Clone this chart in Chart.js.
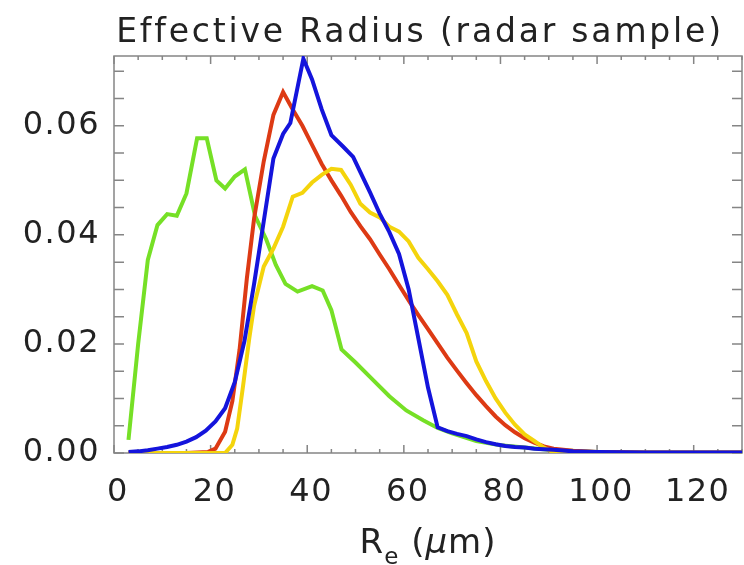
<!DOCTYPE html>
<html>
<head>
<meta charset="utf-8">
<script src="https://cdn.jsdelivr.net/npm/chart.js@4.4.1/dist/chart.umd.min.js"></script>
<style>
  html, body { margin: 0; padding: 0; background: #fff; }
  #wrap { width: 744px; height: 565px; }
</style>
</head>
<body>
<div id="wrap"><canvas id="c" width="744" height="565"></canvas></div>
<script>
// ---- data ----
const greenX = [3, 5, 7, 9, 11, 13, 15, 17.2, 19.2, 21.2, 23, 25, 27.1, 29.2, 31.5, 33.5, 35.5, 38, 41, 43.2, 45, 47.1, 50, 53.5, 57, 60.5, 64, 67, 70, 75, 80, 90, 100, 110, 120, 130];
const greenY = [0.0024, 0.0200, 0.0354, 0.0418, 0.0438, 0.0435, 0.0476, 0.0577, 0.0577, 0.0500, 0.0485, 0.0507, 0.0520, 0.0435, 0.0392, 0.0345, 0.0310, 0.0296, 0.0306, 0.0298, 0.0262, 0.0190, 0.0166, 0.0135, 0.0104, 0.0078, 0.0060, 0.0046, 0.0036, 0.0022, 0.0014, 0.0006, 0.0002, 0.0001, 0.0001, 0.0001];

const redX = [3, 10, 15, 19.5, 21, 23, 24.5, 26, 27.5, 29, 31, 33, 35, 37, 39, 41, 43, 45, 47, 49, 51, 53, 55, 57, 59, 61, 63, 65, 67, 69, 71, 73, 75, 77, 79, 81, 83, 85, 87, 89, 91, 95, 100, 110, 130];
const redY = [0, 0, 0, 0.0002, 0.0008, 0.0039, 0.0095, 0.0190, 0.0320, 0.0430, 0.0535, 0.0620, 0.0662, 0.0630, 0.0600, 0.0565, 0.0530, 0.0500, 0.0472, 0.0442, 0.0416, 0.0392, 0.0364, 0.0337, 0.0308, 0.0280, 0.0253, 0.0227, 0.0201, 0.0175, 0.0151, 0.0128, 0.0106, 0.0086, 0.0067, 0.0051, 0.0038, 0.0027, 0.0019, 0.0012, 0.0008, 0.0004, 0.0002, 0.0001, 0.0001];

const yellowX = [3, 10, 20, 23, 24.5, 25.5, 26.7, 28, 29, 31, 33, 35, 37, 39, 41, 43, 45, 47, 49, 51, 53, 55, 57, 59, 61, 63, 65, 67, 69, 71, 73, 75, 77, 79, 81, 83, 85, 87, 89, 91, 95, 100, 110, 130];
const yellowY = [0, 0, 0, 0, 0.0015, 0.0045, 0.0122, 0.0210, 0.0270, 0.0342, 0.0375, 0.0415, 0.0470, 0.0477, 0.0496, 0.0510, 0.0521, 0.0519, 0.0492, 0.0457, 0.0441, 0.0432, 0.0415, 0.0406, 0.0388, 0.0358, 0.0337, 0.0315, 0.0290, 0.0254, 0.0220, 0.0168, 0.0132, 0.0100, 0.0074, 0.0052, 0.0034, 0.0022, 0.0010, 0.0001, 0, 0, 0, 0];

const blueX = [3, 5, 7, 9, 11, 13, 15, 17, 19, 21, 23, 25, 27, 29, 31, 33, 35, 36.5, 39.2, 41, 43, 45, 47.4, 49.5, 51, 53, 55, 57, 59, 61, 63, 65, 67, 69, 71, 73, 75, 77, 79, 81, 83, 85, 87, 89, 91, 95, 100, 110, 120, 130];
const blueY = [0.0002, 0.0003, 0.0005, 0.0008, 0.0011, 0.0015, 0.0021, 0.0029, 0.0041, 0.0058, 0.0082, 0.0130, 0.0205, 0.0310, 0.0425, 0.0540, 0.0585, 0.0605, 0.0723, 0.0685, 0.0630, 0.0583, 0.0562, 0.0543, 0.0515, 0.0478, 0.0439, 0.0405, 0.0365, 0.0300, 0.0210, 0.0120, 0.0047, 0.0040, 0.0035, 0.0031, 0.0025, 0.0020, 0.0016, 0.0013, 0.0011, 0.0010, 0.0008, 0.0007, 0.0006, 0.0003, 0.0002, 0.0001, 0.0001, 0.0001];

// ---- axes ----
const xLabels = [0, 20, 40, 60, 80, 100, 120];
const xMinor = [0, 5, 10, 15, 20, 25, 30, 35, 40, 45, 50, 55, 60, 65, 70, 75, 80, 85, 90, 95, 100, 105, 110, 115, 120, 125, 130];
const yLabels = [0, 0.02, 0.04, 0.06];
const yMinor = [0, 0.005, 0.01, 0.015, 0.02, 0.025, 0.03, 0.035, 0.04, 0.045, 0.05, 0.055, 0.06, 0.065, 0.07];

const titleText = 'Effective Radius (radar sample)';

const toPoints = (xs, ys) => xs.map((x, i) => ({ x: x, y: ys[i] }));
const FONT = 'DejaVu Sans';
const TEXT_COLOR = '#222';
const AXIS_COLOR = '#858585';

// slightly wider lettering, like the original's stroke font
const spacing = {
    id: 'spacing',
    beforeDraw(chart) { chart.ctx.letterSpacing = '1.5px'; }
};

// frame and inward ticks, IDL style
const frameTicks = {
    id: 'frameTicks',
    beforeDatasetsDraw(chart) {
        const { ctx, chartArea: a, scales } = chart;
        const x = scales.x, y = scales.y;
        ctx.save();
        ctx.strokeStyle = AXIS_COLOR;
        ctx.lineWidth = 1.5;
        ctx.strokeRect(a.left, a.top, a.right - a.left, a.bottom - a.top);
        ctx.beginPath();
        xMinor.forEach(v => {
            const px = x.getPixelForValue(v);
            const len = xLabels.includes(v) ? 8 : 4;
            ctx.moveTo(px, a.bottom); ctx.lineTo(px, a.bottom - len);
            ctx.moveTo(px, a.top); ctx.lineTo(px, a.top + len);
        });
        yMinor.forEach(v => {
            const py = y.getPixelForValue(v);
            ctx.moveTo(a.left, py); ctx.lineTo(a.left + 10, py);
            ctx.moveTo(a.right, py); ctx.lineTo(a.right - 10, py);
        });
        ctx.stroke();
        ctx.restore();
    }
};

// title and x-axis title (R with subscript e)
const labels = {
    id: 'labels',
    afterDraw(chart) {
        const { ctx, chartArea: a } = chart;
        const cx = (a.left + a.right) / 2;
        ctx.save();
        ctx.fillStyle = TEXT_COLOR;
        ctx.textBaseline = 'alphabetic';

        ctx.letterSpacing = '2.8px';
        ctx.font = `33px "${FONT}"`;
        ctx.textAlign = 'center';
        ctx.fillText(titleText, cx - 8, 42);

        // R_e (μm)
        ctx.textAlign = 'left';
        ctx.letterSpacing = '1px';
        const big = `34px "${FONT}"`, small = `23px "${FONT}"`, ital = `italic 34px "${FONT}"`;
        const parts = [
            { t: 'R', f: big, dy: 0 },
            { t: 'e', f: small, dy: 11 },
            { t: ' (', f: big, dy: 0 },
            { t: 'μ', f: ital, dy: 0 },
            { t: 'm)', f: big, dy: 0 }
        ];
        let total = 0;
        parts.forEach(p => { ctx.font = p.f; p.w = ctx.measureText(p.t).width; total += p.w; });
        let px = cx - total / 2;
        const base = 553;
        parts.forEach(p => { ctx.font = p.f; ctx.fillText(p.t, px, base + p.dy); px += p.w; });
        ctx.restore();
    }
};

const line = (pts, color, order) => ({
    data: pts,
    borderColor: color,
    borderWidth: 4,
    pointRadius: 0,
    tension: 0,
    fill: false,
    order: order
});

new Chart(document.getElementById('c'), {
    type: 'line',
    data: {
        datasets: [
            line(toPoints(blueX, blueY), '#1414dc', 1),
            line(toPoints(yellowX, yellowY), '#f4d40c', 2),
            line(toPoints(redX, redY), '#dd3a14', 3),
            line(toPoints(greenX, greenY), '#76e026', 4)
        ]
    },
    options: {
        responsive: false,
        animation: false,
        layout: { padding: { top: 56, right: 2 } },
        plugins: {
            legend: { display: false },
            tooltip: { enabled: false },
            title: { display: false }
        },
        scales: {
            x: {
                type: 'linear',
                min: 0,
                max: 130,
                grid: { display: false },
                border: { display: false },
                afterBuildTicks: s => { s.ticks = xLabels.map(v => ({ value: v })); },
                afterFit: s => { s.height = 112; },
                ticks: {
                    color: TEXT_COLOR,
                    font: { family: FONT, size: 32 },
                    padding: 12,
                    labelOffset: 4,
                    maxRotation: 0
                }
            },
            y: {
                type: 'linear',
                min: 0,
                max: 0.0728,
                grid: { display: false },
                border: { display: false },
                afterBuildTicks: s => { s.ticks = yLabels.map(v => ({ value: v })); },
                afterFit: s => { s.width = 114; },
                ticks: {
                    color: TEXT_COLOR,
                    font: { family: FONT, size: 32 },
                    padding: 6,
                    callback: v => v.toFixed(2)
                }
            }
        }
    },
    plugins: [spacing, frameTicks, labels]
});
</script>
</body>
</html>
